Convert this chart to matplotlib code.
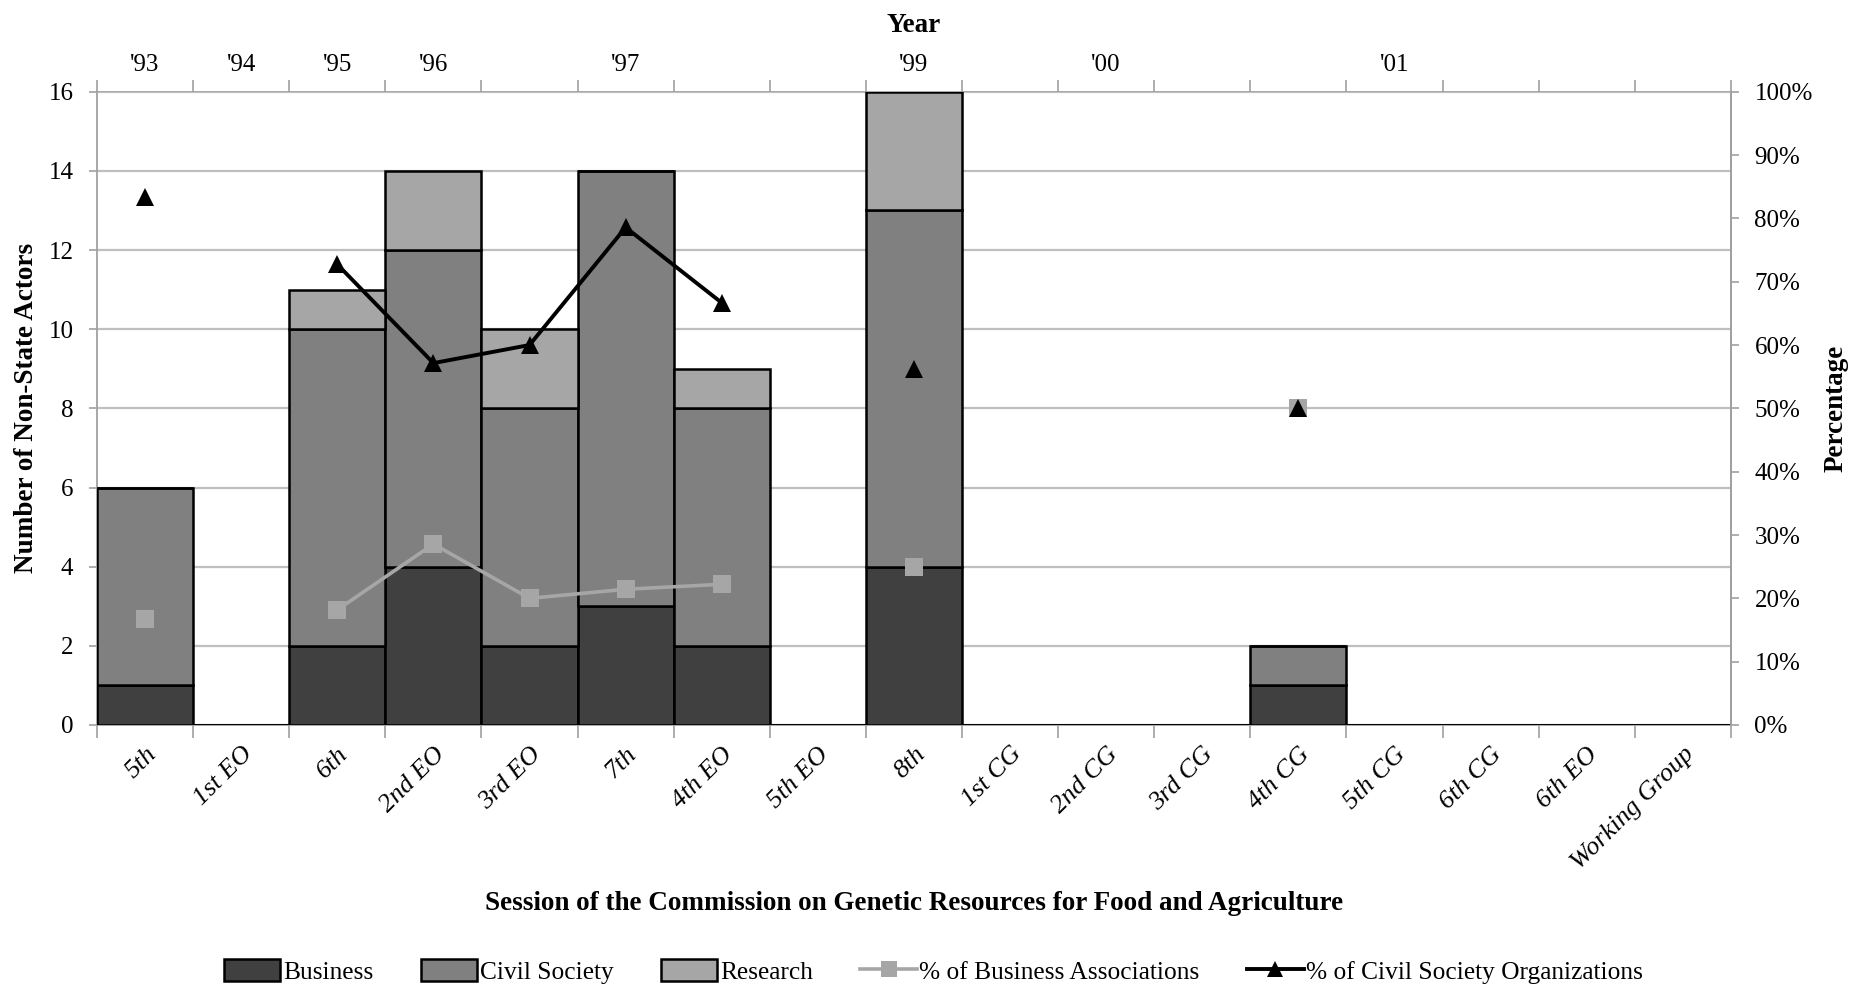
import numpy as np
import matplotlib
matplotlib.use("Agg")
import matplotlib.pyplot as plt
from matplotlib.ticker import FuncFormatter
from matplotlib.lines import Line2D
from matplotlib.patches import Patch

plt.rcParams['font.family'] = ['Liberation Serif', 'DejaVu Serif']

sessions = ["5th", "1st EO", "6th", "2nd EO", "3rd EO", "7th", "4th EO", "5th EO",
            "8th", "1st CG", "2nd CG", "3rd CG", "4th CG", "5th CG", "6th CG", "6th EO",
            "Working Group"]
year_labels = ["'93", "'94", "'95", "'96", "", "'97", "", "", "'99", "", "'00", "", "",
               "'01", "", "", ""]

business = [1, 0, 2, 4, 2, 3, 2, 0, 4, 0, 0, 0, 1, 0, 0, 0, 0]
civil_society = [5, 0, 8, 8, 6, 11, 6, 0, 9, 0, 0, 0, 1, 0, 0, 0, 0]
research = [0, 0, 1, 2, 2, 0, 1, 0, 3, 0, 0, 0, 0, 0, 0, 0, 0]

nan = np.nan
pct_business = [1/6, nan, 2/11, 4/14, 2/10, 3/14, 2/9, nan, 4/16, nan, nan, nan, 1/2,
                nan, nan, nan, nan]
pct_civil = [5/6, nan, 8/11, 8/14, 6/10, 11/14, 6/9, nan, 9/16, nan, nan, nan, 1/2,
             nan, nan, nan, nan]

C_BUS = "#404040"
C_CIV = "#808080"
C_RES = "#a6a6a6"
C_GRID = "#bfbfbf"
C_AX = "#a0a0a0"
FS_TICK = 18
FS_CAT = 19
FS_TITLE = 19.5
FS_LEG = 18.3

fig = plt.figure(figsize=(18.52, 9.88), dpi=100)
ax = fig.add_axes([0.0524, 0.2662, 0.8822, 0.641])

x = np.arange(len(sessions))
b = np.array(business)
c = np.array(civil_society)
r = np.array(research)
kw = dict(width=1.0, edgecolor="black", linewidth=1.8, zorder=3)
ax.bar(x, b, color=C_BUS, **kw)
ax.bar(x, c, bottom=b, color=C_CIV, **kw)
ax.bar(x, r, bottom=b + c, color=C_RES, **kw)

ax.set_xlim(-0.5, len(sessions) - 0.5)
ax.set_ylim(0, 16)
ax.set_yticks(np.arange(0, 17, 2))
ax.yaxis.grid(True, color=C_GRID, linewidth=1.6, zorder=0)
ax.set_axisbelow(True)
for s in ["left", "bottom", "right"]:
    ax.spines[s].set_color(C_AX)
    ax.spines[s].set_linewidth(1.3)
ax.spines["top"].set_visible(False)
ax.tick_params(axis="y", colors=C_AX, labelcolor="black", labelsize=FS_TICK,
               length=6, width=1.2, pad=11)

# bottom: boundary ticks + rotated session labels
bounds = np.arange(-0.5, len(sessions), 1.0)
ax.set_xticks(bounds)
ax.set_xticklabels([""] * len(bounds))
ax.tick_params(axis="x", which="major", colors=C_AX, length=9, width=1.2)
ax.set_xticks(x, minor=True)
ax.set_xticklabels(sessions, minor=True, rotation=45, ha="right", rotation_mode="anchor",
                   fontstyle="italic", fontsize=FS_CAT)
ax.tick_params(axis="x", which="minor", length=0, pad=13)
ax.set_ylabel("Number of Non-State Actors", fontsize=FS_TITLE, fontweight="bold",
              labelpad=6.5)
ax.set_xlabel("Session of the Commission on Genetic Resources for Food and Agriculture",
              fontsize=FS_TITLE, fontweight="bold", labelpad=12)

# top: year axis
top = ax.secondary_xaxis("top")
top.set_xticks(bounds)
top.set_xticklabels([""] * len(bounds))
top.tick_params(axis="x", which="major", colors=C_AX, length=9, width=1.2)
top.set_xticks(x, minor=True)
top.set_xticklabels(year_labels, minor=True, fontsize=FS_TICK)
top.tick_params(axis="x", which="minor", length=0, pad=11)
top.spines["top"].set_color(C_AX)
top.spines["top"].set_linewidth(1.3)
top.set_xlabel("Year", fontsize=FS_TITLE, fontweight="bold", labelpad=16)

# right: percentage axis
ax2 = ax.twinx()
ax2.set_ylim(0, 1)
ax2.set_yticks(np.arange(0, 1.01, 0.1))
ax2.yaxis.set_major_formatter(FuncFormatter(lambda v, p: f"{v*100:.0f}%"))
ax2.tick_params(axis="y", colors=C_AX, labelcolor="black", labelsize=FS_TICK,
                length=6, width=1.2, pad=11)
for s in ["left", "bottom", "top"]:
    ax2.spines[s].set_visible(False)
ax2.spines["right"].set_color(C_AX)
ax2.spines["right"].set_linewidth(1.3)
ax2.set_ylabel("Percentage", fontsize=FS_TITLE, fontweight="bold", labelpad=8)

ax2.plot(x, pct_business, color=C_RES, linewidth=2.6, marker="s", markersize=13,
         markeredgewidth=0, zorder=4)
ax2.plot(x, pct_civil, color="black", linewidth=2.8, marker="^", markersize=13.5,
         markeredgewidth=0, zorder=5)

handles = [
    Patch(facecolor=C_BUS, edgecolor="black", linewidth=1.8, label="Business"),
    Patch(facecolor=C_CIV, edgecolor="black", linewidth=1.8, label="Civil Society"),
    Patch(facecolor=C_RES, edgecolor="black", linewidth=1.8, label="Research"),
    Line2D([], [], color=C_RES, linewidth=2.6, marker="s", markersize=11,
           markeredgewidth=0, label="% of Business Associations"),
    Line2D([], [], color="black", linewidth=2.8, marker="^", markersize=12,
           markeredgewidth=0, label="% of Civil Society Organizations"),
]
fig.legend(handles=handles, loc="center", bbox_to_anchor=(0.504, 0.017), ncol=5,
           frameon=False, fontsize=FS_LEG, handlelength=2.23, handleheight=0.95,
           handletextpad=0.1, columnspacing=1.86)

fig.savefig("out.png", dpi=100)
